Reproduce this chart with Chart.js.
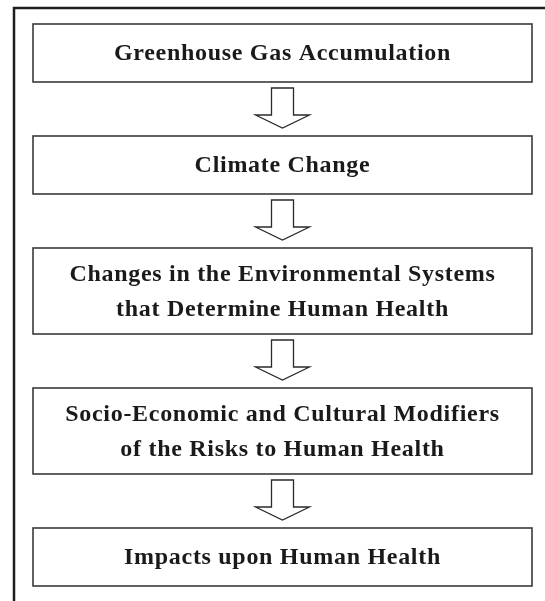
<!DOCTYPE html>
<html>
<head>
<meta charset="utf-8">
<script src="https://cdn.jsdelivr.net/npm/chart.js@4"></script>
<style>
  body { margin: 0; background: #fff; }
  #wrap { width: 545px; height: 601px; position: relative; }
</style>
</head>
<body>
<div id="wrap"><canvas id="flowChart"></canvas></div>
<script>
// flow steps, top to bottom (one entry per text line)
const stepLines = [
    ['Greenhouse Gas Accumulation'],
    ['Climate Change'],
    ['Changes in the Environmental Systems', 'that Determine Human Health'],
    ['Socio-Economic and Cultural Modifiers', 'of the Risks to Human Health'],
    ['Impacts upon Human Health']
];

// layout in scale units (1 unit = 1px at this size)
const layout = {
    frameLeft: 14, frameTop: 8,
    boxLeft: 33, boxRight: 532, firstTop: 24,
    oneLineH: 58, lineStep: 28, gap: 54,
    stemTop: 6, headBase: 33, tip: 46,
    stemHalf: 11, headHalf: 27,
    lineHeight: 35
};

const flowPlugin = {
    id: 'flow',
    afterDraw(chart) {
        const ctx = chart.ctx;
        const xs = chart.scales.x, ys = chart.scales.y;
        const px = v => xs.getPixelForValue(v);
        const py = v => ys.getPixelForValue(v);
        const L = layout;
        const cx = (L.boxLeft + L.boxRight) / 2;

        ctx.save();
        // outer frame: top and left rules only
        ctx.strokeStyle = '#1e1e1e';
        ctx.lineWidth = 2.5;
        ctx.beginPath();
        ctx.moveTo(px(545), py(L.frameTop));
        ctx.lineTo(px(L.frameLeft), py(L.frameTop));
        ctx.lineTo(px(L.frameLeft), py(601));
        ctx.stroke();

        let top = L.firstTop;
        stepLines.forEach((lines, i) => {
            const h = L.oneLineH + (lines.length - 1) * L.lineStep;
            ctx.strokeStyle = '#3a3a3a';
            ctx.lineWidth = 1.6;
            ctx.strokeRect(px(L.boxLeft), py(top), px(L.boxRight) - px(L.boxLeft), py(top + h) - py(top));

            ctx.fillStyle = '#1a1a1a';
            ctx.font = 'bold 24px "Liberation Serif", serif';
            ctx.letterSpacing = '0.7px';
            ctx.textAlign = 'center';
            ctx.textBaseline = 'middle';
            const mid = top + h / 2;
            lines.forEach((t, j) => {
                const y = mid + (j - (lines.length - 1) / 2) * L.lineHeight;
                ctx.fillText(t, px(cx), py(y + 1));
            });

            const bottom = top + h;
            if (i < stepLines.length - 1) {
                // hollow down arrow
                ctx.strokeStyle = '#2a2a2a';
                ctx.lineWidth = 1.3;
                ctx.beginPath();
                ctx.moveTo(px(cx - L.stemHalf), py(bottom + L.headBase));
                ctx.lineTo(px(cx - L.stemHalf), py(bottom + L.stemTop));
                ctx.lineTo(px(cx + L.stemHalf), py(bottom + L.stemTop));
                ctx.lineTo(px(cx + L.stemHalf), py(bottom + L.headBase));
                ctx.lineTo(px(cx + L.headHalf), py(bottom + L.headBase));
                ctx.lineTo(px(cx), py(bottom + L.tip));
                ctx.lineTo(px(cx - L.headHalf), py(bottom + L.headBase));
                ctx.closePath();
                ctx.stroke();
            }
            top = bottom + L.gap;
        });
        ctx.restore();
    }
};

document.addEventListener('DOMContentLoaded', function() {
    const flowCtx = document.getElementById('flowChart').getContext('2d');
    new Chart(flowCtx, {
        type: 'scatter',
        data: { datasets: [] },
        options: {
            responsive: true,
            maintainAspectRatio: false,
            animation: false,
            layout: { padding: 0 },
            scales: {
                x: { type: 'linear', min: 0, max: 545, display: false },
                y: { type: 'linear', min: 0, max: 601, reverse: true, display: false }
            },
            plugins: { legend: { display: false }, tooltip: { enabled: false } }
        },
        plugins: [flowPlugin]
    });
});
</script>
</body>
</html>
